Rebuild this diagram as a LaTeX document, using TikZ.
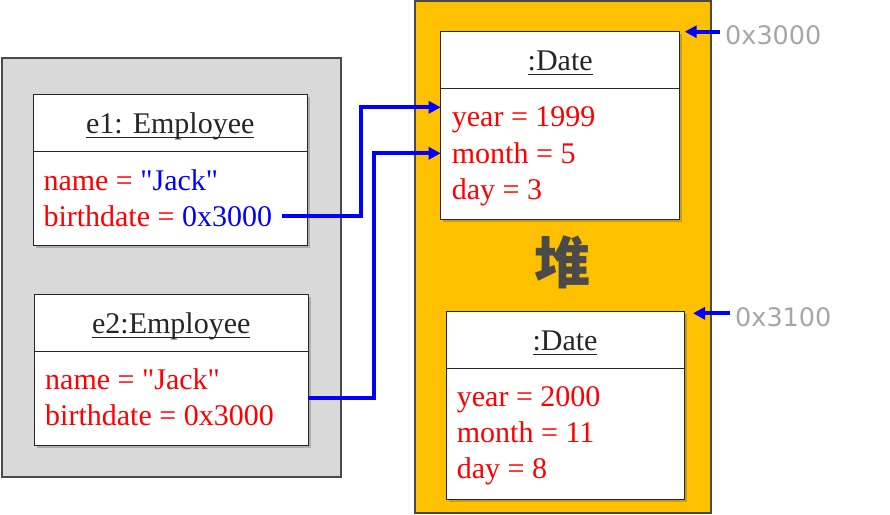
\documentclass[tikz,border=0pt]{standalone}
\usepackage{fontspec}
\setmainfont{Liberation Serif}
\newfontfamily\objfont{Liberation Serif}
\newfontfamily\cjk{Noto Sans CJK SC}
\newfontfamily\addrfont{DejaVu Sans}
\usetikzlibrary{arrows.meta,positioning,shadows}
\definecolor{heapfill}{HTML}{FFC000}
\definecolor{stackfill}{HTML}{D9D9D9}
\definecolor{frame}{HTML}{4A4A4A}
\definecolor{addrgray}{HTML}{A6A6A6}
\newcommand\ulname[1]{\setbox0\hbox{#1}\rlap{\rule[-4.5pt]{\wd0}{1pt}}\box0}

\begin{document}
\begin{tikzpicture}[x=1pt,y=-1pt,>=Latex,
area/.style={draw=frame,line width=1.5pt,anchor=north west,inner sep=0pt},
part/.style={draw=black!85,fill=white,line width=.8pt,outer sep=0pt,inner sep=0pt,minimum width=#1,
  drop shadow={shadow xshift=2.5pt,shadow yshift=-2.5pt,opacity=.3,fill=black!70}},
part/.default=274pt,
title/.style={font=\objfont\fontsize{30}{36}\selectfont,text=black!85,text height=24pt,text depth=3pt},
attr/.style={anchor=base west,inner sep=0pt,text=red,font=\objfont\fontsize{30}{36}\selectfont},
ref/.style={line width=4pt,blue,-{Triangle[length=12pt,width=12pt]}},
addr/.style={anchor=base west,inner xsep=5pt,inner ysep=0pt,text=addrgray,font=\addrfont\fontsize{25.5}{30}\selectfont}]
\useasboundingbox (0,0) rectangle (890,514);
\node[area,fill=stackfill,minimum width=339pt,minimum height=419pt] (stack) at (1,57) {};
\node[area,fill=heapfill,minimum width=296pt,minimum height=512pt] (heap) at (414,0) {};
\node[font=\cjk\bfseries\fontsize{56}{56}\selectfont,text=frame,inner sep=0pt] (heaplbl) at (562,262) {堆};
% employee objects
\node[part,title,minimum height=57pt,anchor=north west] (e1head) at (33.3,94.3) {\ulname{e1: Employee}};
\node[part,minimum height=94pt,below=0pt of e1head] (e1body) {};
\node[attr] (e1name) at (43.3,190) {name = \textcolor{blue}{"Jack"}};
\node[attr] (e1bd) at (43.3,226) {birthdate = \textcolor{blue}{0x3000}};
\node[part,title,minimum height=57pt,anchor=north west] (e2head) at (34.3,294.3) {\ulname{e2:Employee}};
\node[part,minimum height=94pt,below=0pt of e2head] (e2body) {};
\node[attr] (e2name) at (45,389) {name = "Jack"};
\node[attr] (e2bd) at (45,425) {birthdate = 0x3000};
% date objects
\node[part=239pt,title,minimum height=56.6pt,anchor=north west] (d1head) at (440.7,31.7) {\ulname{:Date}};
\node[part=239pt,minimum height=131pt,below=0pt of d1head] (d1body) {};
\node[attr] (d1year) at (451.7,126.7) {year = 1999};
\node[attr] (d1month) at (451.7,163) {month = 5};
\node[attr] (d1day) at (451.7,199) {day = 3};
\node[part=238pt,title,minimum height=56.6pt,anchor=north west] (d2head) at (446,311.7) {\ulname{:Date}};
\node[part=238pt,minimum height=131pt,below=0pt of d2head] (d2body) {};
\node[attr] (d2year) at (456.7,406) {year = 2000};
\node[attr] (d2month) at (456.7,442.7) {month = 11};
\node[attr] (d2day) at (456.7,478) {day = 8};
% addresses
\node[addr] (a3000) at (720,44) {0x3000};
\node[addr] (a3100) at (730,326.7) {0x3100};
\draw[ref] (a3000.west |- d1head.north east)--([xshift=5pt]d1head.north east);
\draw[ref] ([yshift=-1.6pt]a3100.west |- d2head.north east)--([xshift=9pt,yshift=-1.6pt]d2head.north east);
% references
\draw[ref] ([xshift=10pt]e1bd.east)--++(79pt,0)|-([yshift=-19pt]d1body.north west);
\draw[ref] (e2body.east)--++(66pt,0)|-([yshift=-65pt]d1body.north west);
\end{tikzpicture}
\end{document}
